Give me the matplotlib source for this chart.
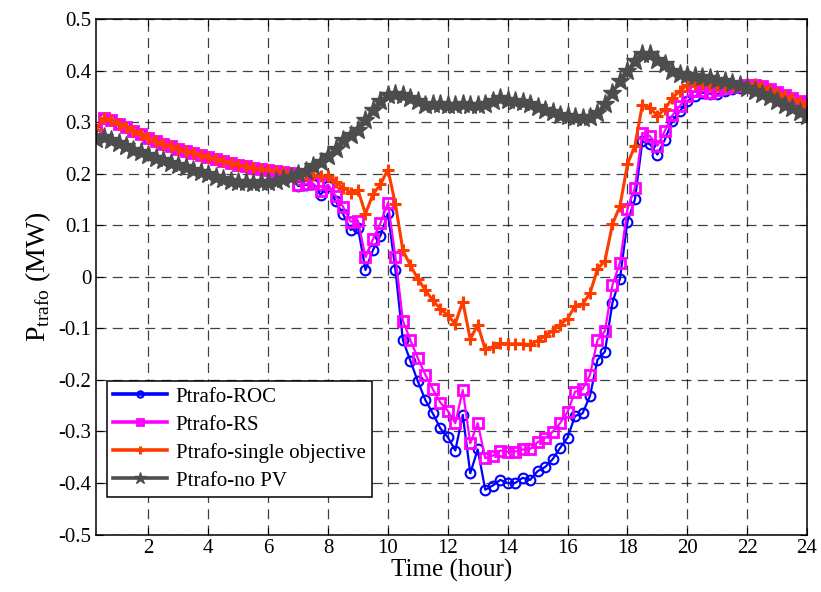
import matplotlib
matplotlib.use('Agg')
import matplotlib.pyplot as plt
import numpy as np

plt.rcParams['font.family'] = ['Liberation Serif', 'DejaVu Serif']
plt.rcParams['mathtext.fontset'] = 'custom'
plt.rcParams['mathtext.rm'] = 'Liberation Serif'

# time axis: 15-min steps
t = np.arange(1, 97) * 0.25

# shared early part (0.25h .. 6.75h) of the three optimised curves
early = [0.285, 0.308, 0.304, 0.297, 0.290, 0.283, 0.276, 0.270, 0.264, 0.258,
         0.253, 0.248, 0.244, 0.240, 0.236, 0.232, 0.228, 0.224, 0.220, 0.217,
         0.214, 0.211, 0.209, 0.207, 0.205, 0.204, 0.202]

roc = early + [
    0.176, 0.178, 0.180, 0.159, 0.176, 0.147, 0.122, 0.091, 0.095, 0.013,
    0.052, 0.080, 0.123, 0.013, -0.123, -0.163, -0.203, -0.239, -0.265, -0.294,
    -0.311, -0.337, -0.268, -0.381, -0.335, -0.413, -0.405, -0.394, -0.400, -0.400,
    -0.390, -0.394, -0.377, -0.369, -0.354, -0.332, -0.312, -0.270, -0.265, -0.231,
    -0.161, -0.145, -0.050, -0.004, 0.107, 0.150, 0.263, 0.257, 0.237, 0.266,
    0.302, 0.321, 0.341, 0.350, 0.357, 0.355, 0.354, 0.360, 0.364, 0.367,
    0.370, 0.370, 0.368, 0.362, 0.356, 0.350, 0.344, 0.338, 0.333]

rs = early + [
    0.178, 0.180, 0.181, 0.167, 0.179, 0.157, 0.136, 0.107, 0.109, 0.038,
    0.073, 0.104, 0.143, 0.039, -0.085, -0.123, -0.158, -0.190, -0.218, -0.244,
    -0.260, -0.284, -0.220, -0.323, -0.284, -0.352, -0.347, -0.337, -0.339, -0.339,
    -0.335, -0.334, -0.321, -0.313, -0.301, -0.284, -0.262, -0.223, -0.218, -0.190,
    -0.123, -0.105, -0.016, 0.027, 0.131, 0.173, 0.279, 0.273, 0.254, 0.283,
    0.313, 0.331, 0.350, 0.360, 0.360, 0.357, 0.363, 0.366, 0.368, 0.370,
    0.372, 0.372, 0.370, 0.364, 0.358, 0.352, 0.346, 0.340, 0.335]

single = early + [
    0.200, 0.198, 0.197, 0.195, 0.196, 0.183, 0.173, 0.163, 0.168, 0.122,
    0.160, 0.179, 0.208, 0.141, 0.051, 0.022, -0.004, -0.026, -0.046, -0.062,
    -0.075, -0.091, -0.048, -0.121, -0.093, -0.141, -0.136, -0.129, -0.130, -0.130,
    -0.130, -0.132, -0.124, -0.115, -0.105, -0.093, -0.081, -0.057, -0.053, -0.032,
    0.015, 0.031, 0.102, 0.137, 0.218, 0.254, 0.334, 0.328, 0.312, 0.325,
    0.347, 0.360, 0.372, 0.374, 0.373, 0.372, 0.370, 0.370, 0.371, 0.372,
    0.373, 0.374, 0.368, 0.362, 0.356, 0.350, 0.344, 0.338, 0.332]

no_pv = [
    0.268, 0.272, 0.266, 0.260, 0.253, 0.246, 0.241, 0.236, 0.231, 0.226,
    0.221, 0.217, 0.212, 0.208, 0.203, 0.199, 0.194, 0.190, 0.186, 0.184,
    0.183, 0.182, 0.183, 0.184, 0.186, 0.189, 0.193, 0.199, 0.206, 0.214,
    0.223, 0.234, 0.248, 0.265, 0.275, 0.285, 0.304, 0.324, 0.340, 0.352,
    0.355, 0.352, 0.346, 0.340, 0.333, 0.336, 0.336, 0.334, 0.334, 0.335,
    0.334, 0.333, 0.336, 0.341, 0.346, 0.343, 0.341, 0.339, 0.336, 0.330,
    0.324, 0.319, 0.314, 0.311, 0.309, 0.307, 0.310, 0.318, 0.335, 0.357,
    0.380, 0.400, 0.418, 0.432, 0.432, 0.420, 0.412, 0.399, 0.394, 0.392,
    0.390, 0.388, 0.385, 0.382, 0.379, 0.376, 0.372, 0.366, 0.360, 0.354,
    0.348, 0.341, 0.334, 0.328, 0.320, 0.312]

fig = plt.figure(figsize=(8.21, 5.92), dpi=100)
ax = fig.add_axes([0.117, 0.097, 0.866, 0.871])

ax.plot(t, roc, color='#0000ff', marker='o', markersize=7, markerfacecolor='none',
        markeredgewidth=1.5, linewidth=1.6, label='Ptrafo-ROC')
ax.plot(t, rs, color='#ff00ff', marker='s', markersize=6.5, markerfacecolor='none',
        markeredgewidth=2, linewidth=1.6, label='Ptrafo-RS')
ax.plot(t, single, color='#ff3c00', marker='+', markersize=9,
        markeredgewidth=2.2, linewidth=2.2, label='Ptrafo-single objective')
ax.plot(t, no_pv, color='#4d4d4d', marker='*', markersize=14,
        linewidth=2.2, label='Ptrafo-no PV')

ax.set_xlim(0.25, 24)
ax.set_ylim(-0.5, 0.5)
ax.set_xticks(np.arange(2, 25, 2))
ax.set_yticks(np.arange(-0.5, 0.51, 0.1))
ax.set_yticklabels(['-0.5', '-0.4', '-0.3', '-0.2', '-0.1', '0',
                    '0.1', '0.2', '0.3', '0.4', '0.5'])
ax.tick_params(direction='in', labelsize=15, top=True, right=True, length=5)
ax.grid(True, color='black', linestyle=(0, (8, 5)), linewidth=0.9, alpha=0.75)
for s in ax.spines.values():
    s.set_linewidth(1.1)

ax.set_xlabel('Time (hour)', fontsize=18, labelpad=0)
ax.set_ylabel(r'P$_{\rm trafo}$ (MW)', fontsize=20, labelpad=4)

leg = ax.legend(loc='lower left', bbox_to_anchor=(0.0155, 0.073), borderaxespad=0,
                fontsize=15, fancybox=False, framealpha=1, edgecolor='black',
                handlelength=2.6, handletextpad=0.4, labelspacing=0.4,
                borderpad=0.3, markerscale=0.65)
leg.get_frame().set_linewidth(1.1)
for line in leg.get_lines():
    line.set_linewidth(2.6)

fig.savefig('out.png', dpi=100)
